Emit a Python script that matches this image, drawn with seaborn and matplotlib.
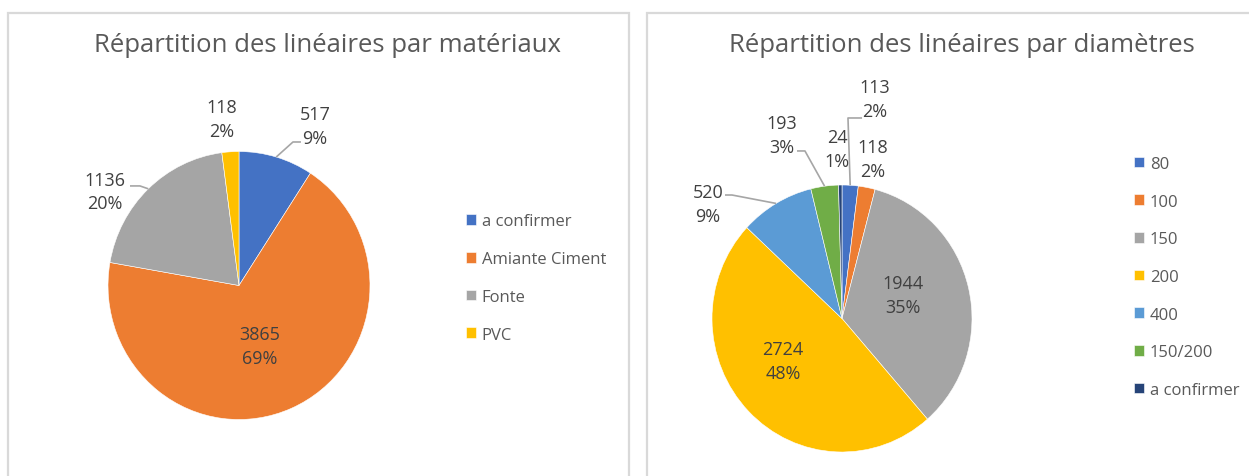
import numpy as np
import matplotlib
matplotlib.use("Agg")
import matplotlib.pyplot as plt
from matplotlib.patches import Rectangle
import seaborn as sns

# ---------------- data ----------------
mat_categories = ["a confirmer", "Amiante Ciment", "Fonte", "PVC"]
mat_values = [517, 3865, 1136, 118]
mat_pct = ["9%", "69%", "20%", "2%"]

dia_categories = ["80", "100", "150", "200", "400", "150/200", "a confirmer"]
dia_values = [113, 118, 1944, 2724, 520, 193, 24]
dia_pct = ["2%", "2%", "35%", "48%", "9%", "3%", "1%"]

titles = ["Répartition des linéaires par matériaux", "Répartition des linéaires par diamètres"]

# ---------------- style ----------------
sns.set_theme(style="white")
plt.rcParams['font.family'] = ['Open Sans', 'DejaVu Sans']

office = sns.color_palette(["#4472C4", "#ED7D31", "#A5A5A5", "#FFC000",
                            "#5B9BD5", "#70AD47", "#264478"])
LABEL_C = "#404040"
TITLE_C = "#595959"
LEG_C = "#595959"
LINE_C = "#A6A6A6"

W, H = 1249, 477
fig = plt.figure(figsize=(W / 100, H / 100), dpi=100)
fig.patch.set_facecolor("white")

# panel borders
for (x0, x1) in [(8, 629), (647, 1262)]:
    fig.add_artist(Rectangle((x0 / W, -0.1), (x1 - x0) / W, (H - 14) / H + 0.1,
                             transform=fig.transFigure, fill=False,
                             edgecolor="#D9D9D9", linewidth=1.6))


def px_axes(cx, cy, rx, ry):
    return fig.add_axes([(cx - rx) / W, (H - cy - ry) / H, 2 * rx / W, 2 * ry / H])


def draw_pie(ax, values, colors, pct, label_pos, leaders):
    wedges, _ = ax.pie(values, colors=colors, startangle=90, counterclock=False,
                       wedgeprops=dict(linewidth=0.4, edgecolor="white"))
    ax.set_aspect("auto")
    ax.set_xlim(-1, 1)
    ax.set_ylim(-1, 1)
    for i, (v, p) in enumerate(zip(values, pct)):
        dx, dy = label_pos[i]
        ax.text(dx, dy, f"{v}\n{p}", ha="center", va="center", fontsize=13,
                color=LABEL_C, linespacing=1.38, clip_on=False)
        if i in leaders:
            w = wedges[i]
            th = np.deg2rad((w.theta1 + w.theta2) / 2)
            ex, ey = np.cos(th), np.sin(th)
            (bx, by), endx = leaders[i]
            ax.plot([ex, bx, endx], [ey, by, by], color=LINE_C, lw=1.2,
                    clip_on=False, solid_capstyle="butt")
    return wedges


# ---- left pie ----
axL = px_axes(239, 286.5, 131, 134)
left_pos = [(0.580, 1.190), (0.160, -0.451), (-1.023, 0.70), (-0.130, 1.243)]
left_lead = {0: ((0.412, 1.071), 0.473), 2: ((-0.756, 0.743), -0.832)}
wL = draw_pie(axL, mat_values, office[:4], mat_pct, left_pos, left_lead)

# ---- right pie ----
axR = px_axes(842, 319.5, 130, 133.5)
right_pos = [(0.254, 1.644), (0.238, 1.195), (0.469, 0.176), (-0.454, -0.318),
             (-1.031, 0.858), (-0.462, 1.375), (-0.038, 1.270)]
right_lead = {0: ((0.046, 1.502), 0.154), 5: ((-0.285, 1.255), -0.346),
              4: ((-0.846, 0.925), -0.90)}
wR = draw_pie(axR, dia_values, office[:7], dia_pct, right_pos, right_lead)

# titles
fig.text(327 / W, 1 - 45 / H, titles[0], ha="center", va="center", fontsize=18.5, color=TITLE_C)
fig.text(962 / W, 1 - 45 / H, titles[1], ha="center", va="center", fontsize=18.5, color=TITLE_C)

# legends
leg_kw = dict(frameon=False, fontsize=12, handlelength=0.6, handleheight=0.6,
              handletextpad=0.35, labelspacing=1.3, borderpad=0, borderaxespad=0,
              labelcolor=LEG_C, loc="center left")
fig.legend(wL, mat_categories, bbox_to_anchor=(466 / W, 1 - 279 / H), **leg_kw)
fig.legend(wR, dia_categories, bbox_to_anchor=(1134 / W, 1 - 278 / H), **leg_kw)

fig.savefig("out.png", dpi=100, facecolor="white")
